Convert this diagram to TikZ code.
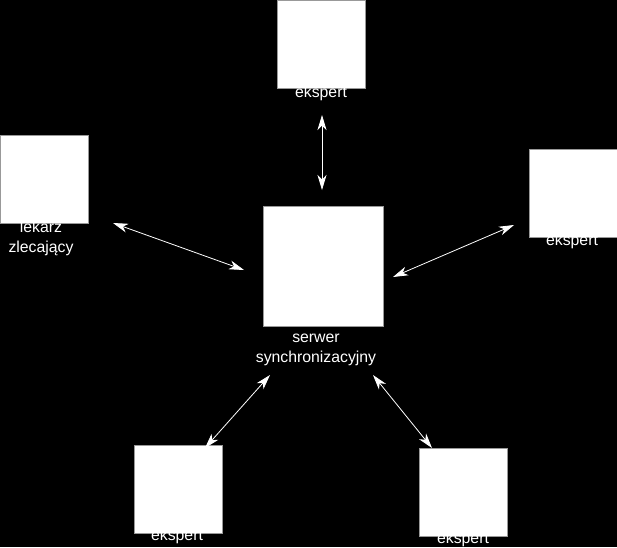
\documentclass[tikz,border=0pt]{standalone}
\usepackage{fontspec}
\setmainfont{Liberation Sans}
\usetikzlibrary{arrows.meta, positioning}
\definecolor{boxEdge}{gray}{0.6}

\begin{document}
\begin{tikzpicture}[x=1pt, y=-1pt, >={Stealth[length=15pt, width=9pt, inset=4.5pt]},
    unit/.style={draw=boxEdge, line width=0.5pt, fill=white, minimum size=88pt, inner sep=0pt},
    caption/.style={text=white, anchor=base, align=center, inner sep=0pt, font=\fontsize{15.8}{20}\selectfont},
    link/.style={<->, white, line width=0.8pt}]
    % background
    \fill[black] (0,0) rectangle (617,547);
    \useasboundingbox (0,0) rectangle (617,547);

    % nodes
    \node[unit, minimum size=120pt] (srv) at (323,266) {};
    \node[unit] (expTop) at (321,44) {};
    \node[unit] (lek) at (44,179) {};
    \node[unit] (expRight) at (573,193) {};
    \node[unit] (expBL) at (178,489) {};
    \node[unit] (expBR) at (463,492) {};

    % labels (base = last line)
    \node[caption] (srvLbl) at (316,362) {serwer\\synchronizacyjny};
    \node[caption] (expTopLbl) at (321,97) {ekspert};
    \node[caption] (lekLbl) at (41,252) {lekarz\\zlecający};
    \node[caption] (expRightLbl) at (572,245) {ekspert};
    \node[caption] (expBLLbl) at (177,540) {ekspert};
    \node[caption] (expBRLbl) at (463,543) {ekspert};

    % arrow ends
    \coordinate (t1) at (322,115);
    \coordinate (t2) at (322,190);
    \coordinate (l1) at (113,223);
    \coordinate (l2) at (244,270);
    \coordinate (r1) at (393,277);
    \coordinate (r2) at (514,225);
    \coordinate (bl1) at (205,448);
    \coordinate (bl2) at (270,375);
    \coordinate (br1) at (373,375);
    \coordinate (br2) at (432,448);

    \draw[link] (t1) -- (t2);
    \draw[link] (l1) -- (l2);
    \draw[link] (r1) -- (r2);
    \draw[link] (bl1) -- (bl2);
    \draw[link] (br1) -- (br2);
\end{tikzpicture}
\end{document}
